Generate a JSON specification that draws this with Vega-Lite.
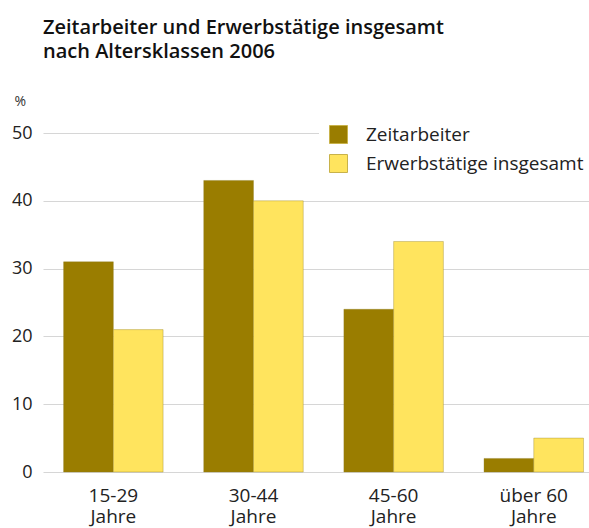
{
  "$schema": "https://vega.github.io/schema/vega-lite/v6.json",
  "width": 546,
  "height": 339,
  "autosize": "none",
  "padding": {"left": 43, "top": 133, "right": 0, "bottom": 56},
  "background": "white",
  "title": {
    "text": ["Zeitarbeiter und Erwerbstätige insgesamt", "nach Altersklassen 2006"],
    "anchor": "start",
    "frame": "group",
    "font": "Open Sans",
    "fontSize": 20,
    "fontWeight": 600,
    "color": "#111111",
    "lineHeight": 24,
    "offset": 32
  },
  "config": {
    "view": {"stroke": null},
    "font": "Open Sans"
  },
  "data": {
    "values": [
      {"Alter": "15-29 Jahre", "Gruppe": "Zeitarbeiter", "Anteil": 31},
      {"Alter": "15-29 Jahre", "Gruppe": "Erwerbstätige insgesamt", "Anteil": 21},
      {"Alter": "30-44 Jahre", "Gruppe": "Zeitarbeiter", "Anteil": 43},
      {"Alter": "30-44 Jahre", "Gruppe": "Erwerbstätige insgesamt", "Anteil": 40},
      {"Alter": "45-60 Jahre", "Gruppe": "Zeitarbeiter", "Anteil": 24},
      {"Alter": "45-60 Jahre", "Gruppe": "Erwerbstätige insgesamt", "Anteil": 34},
      {"Alter": "über 60 Jahre", "Gruppe": "Zeitarbeiter", "Anteil": 2},
      {"Alter": "über 60 Jahre", "Gruppe": "Erwerbstätige insgesamt", "Anteil": 5}
    ]
  },
  "mark": {"type": "bar", "stroke": "#8c7a20", "strokeWidth": 1, "strokeOpacity": 0.35},
  "encoding": {
    "x": {
      "field": "Alter",
      "type": "nominal",
      "sort": null,
      "scale": {"paddingInner": 0.29, "paddingOuter": 0.093, "align": 0.79},
      "axis": {
        "title": null,
        "labelAngle": 0,
        "ticks": false,
        "domain": false,
        "labelPadding": 14,
        "labelFontSize": 19,
        "labelLineHeight": 21,
        "labelColor": "#222222",
        "labelExpr": "[replace(datum.label, ' Jahre', ''), 'Jahre']"
      }
    },
    "xOffset": {
      "field": "Gruppe",
      "type": "nominal",
      "sort": ["Zeitarbeiter", "Erwerbstätige insgesamt"],
      "scale": {"paddingInner": 0, "paddingOuter": 0}
    },
    "y": {
      "field": "Anteil",
      "type": "quantitative",
      "scale": {"domain": [0, 50], "nice": false},
      "axis": {
        "title": "%",
        "titleAngle": 0,
        "titleAlign": "left",
        "titleBaseline": "alphabetic",
        "titleX": -29,
        "titleY": -28,
        "titleFontSize": 14,
        "titleFontWeight": "normal",
        "titleColor": "#333333",
        "values": [0, 10, 20, 30, 40, 50],
        "ticks": false,
        "domain": false,
        "labelPadding": 11,
        "labelFontSize": 18,
        "labelColor": "#222222",
        "grid": true,
        "gridColor": "#d6d6d6",
        "gridWidth": 1.2
      }
    },
    "color": {
      "field": "Gruppe",
      "type": "nominal",
      "sort": ["Zeitarbeiter", "Erwerbstätige insgesamt"],
      "scale": {"domain": ["Zeitarbeiter", "Erwerbstätige insgesamt"], "range": ["#9a7d00", "#ffe45e"]},
      "legend": {
        "title": null,
        "orient": "none",
        "legendX": 276,
        "legendY": -18,
        "padding": 10,
        "fillColor": "white",
        "symbolType": "square",
        "symbolSize": 324,
        "symbolStrokeWidth": 1,
        "symbolStrokeColor": "#c8b24a",
        "symbolOpacity": 1,
        "labelFontSize": 19,
        "labelOffset": 18,
        "labelColor": "#222222",
        "labelLimit": 300,
        "rowPadding": 6
      }
    }
  }
}
